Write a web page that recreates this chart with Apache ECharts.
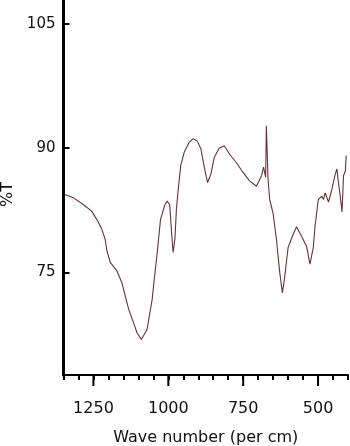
<!DOCTYPE html>
<html>
<head>
<meta charset="utf-8">
<script src="https://cdn.jsdelivr.net/npm/echarts@6/dist/echarts.min.js"></script>
<style>
html,body{margin:0;padding:0;background:#fff;}
#chart{width:350px;height:446px;}
</style>
</head>
<body>
<div id="chart"></div>
<script>
// Wave numbers (per cm)
const waveNumbers = [1345,1317,1284,1256,1239,1222,1211,1205,1194,1172,1155,1143.5,1132,1116,1104.5,1090,1071,1054,1048,1037,1026,1011,1004,995.5,989,984,978,973,967,958.5,947,930.6,917,903,891,880,869,857.6,846.5,830,813,796,773.5,751,729,706,689,682,675,672.6,667,661.5,650,639,628,619,611,600,583,572,555,538,527,516,510,499,487.6,482,476.5,465,454,443,437,432,426,420,415,409,406];
// Transmittance (%T)
const transmittance = [84.4,84.0,83.2,82.4,81.4,80.2,79.0,77.6,76.2,75.2,73.75,72.1,70.5,68.9,67.7,66.9,68.1,71.7,73.8,77.4,81.4,83.2,83.6,83.2,79.8,77.4,79.0,82.6,85.0,87.9,89.5,90.7,91.15,90.85,89.9,87.7,85.85,86.9,88.9,90.0,90.3,89.3,88.3,87.1,86.05,85.4,86.65,87.7,86.5,92.7,86.25,83.8,82.1,79.0,75.0,72.5,74.55,78.0,79.6,80.5,79.35,78.1,76.0,78.0,80.6,83.8,84.2,83.8,84.6,83.5,85.0,86.8,87.5,85.85,84.2,82.3,86.65,87.25,89.1];
// Labelled (major) tick values on the wave-number axis
const xMajorTicks = [500,750,1000,1250];
// Tick labels on the %T axis
const yTicks = [75,90,105];

const yMin = 62.6, yMax = 107.9;
const seriesData = waveNumbers.map((w,i)=>[w, transmittance[i]]);
const majorTickData = xMajorTicks.map(v=>[v, yMin]);
const fontFamily = 'DejaVu Sans';
const plain = v => String(v);

const chart = echarts.init(document.getElementById('chart'), null, {renderer:'canvas'});
chart.setOption({
  animation:false,
  backgroundColor:'#fff',
  grid:{left:63.5, right:2, top:0, bottom:71, containLabel:false, outerBoundsMode:'none'},
  xAxis:{
    type:'value', inverse:true, min:400, max:1350, interval:50, position:'bottom',
    name:'Wave number (per cm)', nameLocation:'middle', nameGap:55,
    nameTextStyle:{fontFamily, fontSize:16, color:'#111'},
    axisLine:{show:true, onZero:false, lineStyle:{color:'#000', width:2}},
    axisTick:{show:true, inside:false, length:5, lineStyle:{color:'#000', width:2}},
    axisLabel:{show:true, customValues:xMajorTicks, formatter:plain, margin:26, fontFamily, fontSize:16, color:'#111'},
    splitLine:{show:false}
  },
  yAxis:{
    type:'value', min:yMin, max:yMax,
    name:'%T', nameLocation:'middle', nameGap:44, nameRotate:90,
    nameTextStyle:{fontFamily, fontSize:16, color:'#111', padding:[0,14,0,0]},
    axisLine:{show:true, lineStyle:{color:'#000', width:3}},
    axisTick:{show:true, inside:true, length:6, customValues:yTicks, lineStyle:{color:'#000', width:2}},
    axisLabel:{show:true, customValues:yTicks, formatter:plain, margin:8, fontFamily, fontSize:15, color:'#111'},
    splitLine:{show:false}
  },
  series:[{
    type:'line', data:seriesData, showSymbol:false, symbol:'none',
    lineStyle:{color:'#633439', width:1.1}, smooth:false
  },{
    // longer major ticks below the wave-number axis, placed through the axis scale
    type:'custom', data:majorTickData, silent:true, clip:false, z:5,
    encode:{x:0, y:1},
    renderItem:(params, api)=>{
      const p = api.coord([api.value(0), api.value(1)]);
      return {type:'line', shape:{x1:p[0], y1:p[1], x2:p[0], y2:p[1]+11},
              style:{stroke:'#000', lineWidth:2}};
    }
  }]
});
</script>
</body>
</html>
